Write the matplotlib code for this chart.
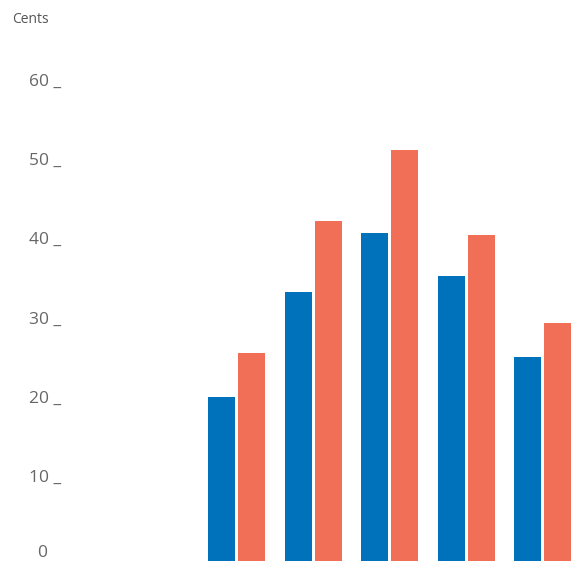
import numpy as np
import matplotlib.pyplot as plt
import matplotlib.transforms as mtransforms

plt.rcParams["font.family"] = ["Open Sans", "DejaVu Sans"]

# Cents, two series over five periods
blue_vals = [20.7, 34.0, 41.4, 36.0, 25.8]
orange_vals = [26.3, 42.9, 51.9, 41.2, 30.0]
yticks = [0, 10, 20, 30, 40, 50, 60]

BLUE = "#0072bb"
ORANGE = "#f26f57"
GREY = "#666666"

W, H = 573, 561
fig = plt.figure(figsize=(W / 100, H / 100), dpi=100)
ax = fig.add_axes([0, 0, 1, 1])

x = np.arange(len(blue_vals))
width = 27 / 76.5
off = 15 / 76.5
ax.bar(x - off, blue_vals, width, color=BLUE)
ax.bar(x + off, orange_vals, width, color=ORANGE)

ax.set_xlim(-236.7 / 76.5, (W - 236.7) / 76.5)
ax.set_ylim(0, H / 7.92)
ax.axis("off")

# y labels sit left of the bars, baseline on the value
trans = mtransforms.blended_transform_factory(fig.transFigure, ax.transData)
for v in yticks:
    if v == 0:
        ax.text(47 / W, 0.05, "0", transform=trans, ha="right",
                va="bottom", fontsize=12.5, color=GREY)
    else:
        ax.text(61 / W, v, f"{v} _", transform=trans, ha="right",
                va="baseline", fontsize=12.5, color=GREY)

fig.text(12 / W, 1 - 23 / H, "Cents", ha="left", va="baseline",
         fontsize=10, color="#555555")

fig.savefig("out.png", dpi=100)
